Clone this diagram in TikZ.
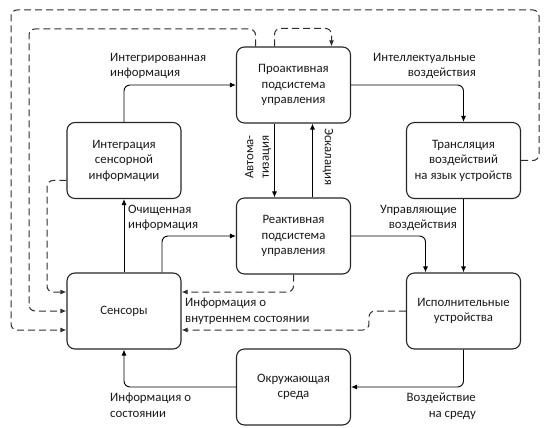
\documentclass[tikz,border=0pt]{standalone}
\usepackage{fontspec}
\setmainfont{Carlito}
\usetikzlibrary{arrows.meta}
\begin{document}
\begin{tikzpicture}[x=1pt,y=-1pt,
  font=\fontsize{12.8pt}{15.5pt}\selectfont,
  box/.style={draw=black!85, line width=1.1pt, rounded corners=8pt, minimum width=114pt, minimum height=76pt, align=center, inner sep=2pt, text=black!90},
  conn/.style={draw=black, line width=0.9pt, rounded corners=6pt, -{Latex[length=6pt,width=5pt]}},
  dconn/.style={draw=black!82, line width=1pt, rounded corners=6pt, dash pattern=on 7pt off 4pt, -{Latex[length=6pt,width=5pt]}},
  lbl/.style={inner sep=0pt, text=black!90}
]
\useasboundingbox (0,0) rectangle (550,428);
% boxes
\node[box] (pro) at (293.5,85) {Проактивная\\подсистема\\управления};
\node[box] (integ) at (124,160.5) {Интеграция\\сенсорной\\информации};
\node[box] (trans) at (463.5,160.5) {Трансляция\\воздействий\\на язык устройств};
\node[box] (react) at (293.5,236) {Реактивная\\подсистема\\управления};
\node[box] (sens) at (124,311) {Сенсоры};
\node[box] (exec) at (463.5,311) {Исполнительные\\устройства};
\node[box] (env) at (293.5,387) {Окружающая\\среда};
% helper coordinates
\coordinate (dTL) at (29,29);
\coordinate (eTR) at (539,10);
\coordinate (eTL) at (11,10);
\coordinate (cBL) at (47,292);
% solid connectors
\draw[conn] (integ.north) |- (pro.west);
\draw[conn] (pro.east) -| (trans.north);
\draw[conn] ([xshift=-19pt]pro.south) -- ([xshift=-19pt]react.north);
\draw[conn] ([xshift=19pt]react.north) -- ([xshift=19pt]pro.south);
\draw[conn] (trans.south) -- (exec.north);
\draw[conn] (react.east) -| ([xshift=-38pt]exec.north);
\draw[conn] (sens.north) -- (integ.south);
\draw[conn] ([xshift=38pt]sens.north) |- (react.west);
\draw[conn] (env.west) -| (sens.south);
\draw[conn] (exec.south) |- (env.east);
% dashed connectors
\draw[dconn] (react.south) |- ([yshift=19pt]sens.east);
\draw[dconn] (exec.west) -- ++(-37,0) |- ([yshift=-19pt]sens.east);
\draw[dconn] ([yshift=-20pt]integ.west) -| (cBL) -- ([yshift=19pt]sens.west);
\draw[dconn] ([xshift=-38pt]pro.north) |- (dTL) |- (sens.west);
\draw[dconn] (trans.east) -| (eTR) -- (eTL) |- ([yshift=-19pt]sens.west);
\draw[dconn] ([xshift=-19pt]pro.north) -- ++(0,-18) -| ([xshift=38pt]pro.north);
% labels
\node[lbl, anchor=west, align=left] (l1) at (110,66) {Интегрированная\\информация};
\node[lbl, anchor=east, align=right] (l2) at (476,66) {Интеллектуальные\\воздействия};
\node[lbl, rotate=90, align=left] (l3) at (258,157) {Автома-\\тизация};
\node[lbl, rotate=-90] (l4) at (328,157) {Эскалация};
\node[lbl, anchor=west, align=left] (l5) at (128,218) {Очищенная\\информация};
\node[lbl, anchor=east, align=right] (l6) at (457,218) {Управляющие\\воздействия};
\node[lbl, anchor=west, align=left] (l7) at (185,311) {Информация о\\внутреннем состоянии};
\node[lbl, anchor=west, align=left] (l8) at (110,405) {Информация о\\состоянии};
\node[lbl, anchor=east, align=right] (l9) at (476,406) {Воздействие\\на среду};
\end{tikzpicture}
\end{document}
